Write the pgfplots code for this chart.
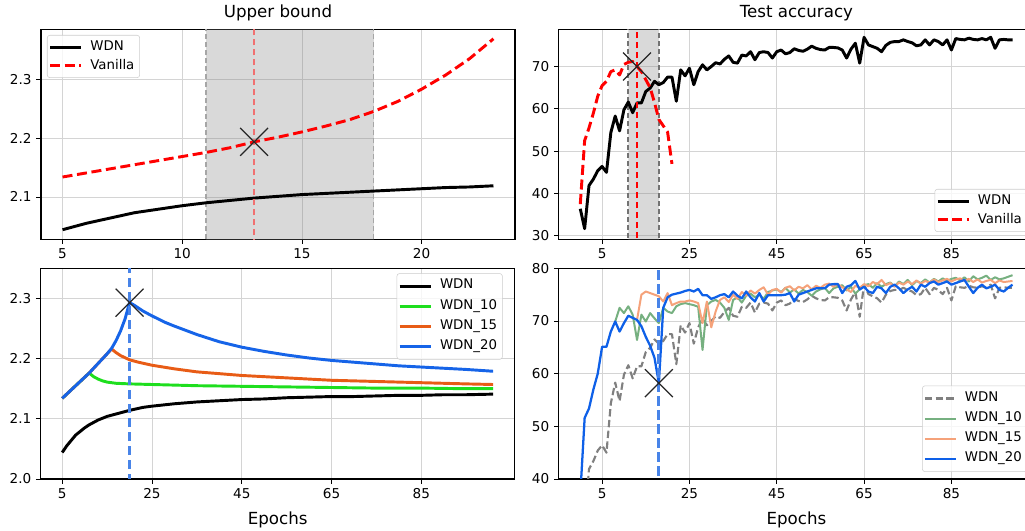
\documentclass[border=0pt]{standalone}
\usepackage{fontspec}
\setmainfont{DejaVu Sans}
\usepackage{pgfplots}
\usepackage{pgfplotstable}
\pgfplotsset{compat=1.18}

\definecolor{wgreen}{RGB}{30,222,30}
\definecolor{worange}{RGB}{232,92,22}
\definecolor{wblue}{RGB}{22,100,232}
\definecolor{lgreen}{RGB}{118,176,128}
\definecolor{lorange}{RGB}{245,162,122}
\definecolor{lblue}{RGB}{14,96,232}
\definecolor{vblue}{RGB}{72,132,232}
\definecolor{vred}{RGB}{240,112,112}

\pgfplotsset{
  panel/.style={
    scale only axis, anchor=south west,
    axis line style={line width=0.8pt},
    tick align=outside, tick pos=left,
    major tick length=3.5pt, tick style={line width=0.6pt, black},
    grid=major, grid style={line width=0.6pt, draw=black!17},
    tick label style={font=\fontsize{10.2}{11.5}\selectfont},
    /pgf/number format/assume math mode=true,
    title style={font=\fontsize{12.5}{14}\selectfont, at={(0.5,1)}, anchor=base, yshift=2.5pt},
    xlabel style={font=\fontsize{12.5}{14}\selectfont, at={(0.5,0)}, anchor=base, yshift=-34pt},
    legend cell align=left,
    legend image code/.code={\draw[#1] (0cm,0cm) -- (0.82cm,0cm);},
    legend style={font=\fontsize{10}{11.5}\selectfont, draw=black!20,
      rounded corners=2pt, fill=white, fill opacity=0.8, text opacity=1,
      inner xsep=1pt, inner ysep=2pt,
      /tikz/every odd column/.append style={column sep=2.8pt},
      nodes={inner xsep=3pt, inner ysep=2.2pt, text height=7.3pt, text depth=2.2pt}},
  },
  onedec/.style={yticklabel style={/pgf/number format/fixed,
    /pgf/number format/precision=1, /pgf/number format/fixed zerofill}},
  xmk/.style={only marks, mark=x, mark size=14.8pt,
    mark options={solid, line width=0.9pt, draw=black!85}, forget plot},
}

% test accuracy of WDN (used in both right panels)
\pgfplotstableread{
x y
0 36.4
1 31.7
2 41.9
3 43.4
4 45.4
5 46.4
6 45.0
7 54.4
8 58.3
9 54.8
10 59.8
11 61.6
12 59.1
13 61.4
14 61.4
15 64.1
16 64.9
17 66.5
18 65.7
19 66.2
20 67.5
21 67.5
22 61.8
23 69.2
24 67.8
25 69.6
26 65.7
27 68.8
28 70.4
29 69.2
30 70.0
31 70.9
32 70.6
33 71.7
34 72.5
35 71.0
36 70.8
37 72.7
38 72.5
39 73.5
40 71.6
41 73.3
42 73.5
43 73.3
44 72.0
45 73.5
46 73.9
47 73.0
48 73.3
49 74.2
50 73.8
51 73.6
52 74.1
53 74.8
54 74.3
55 74.0
56 73.9
57 74.5
58 74.5
59 74.4
60 73.9
61 72.0
62 74.1
63 75.5
64 70.8
65 76.9
66 75.1
67 74.7
68 74.3
69 73.5
70 75.0
71 75.7
72 75.9
73 75.9
74 76.3
75 75.9
76 75.6
77 74.9
78 75.1
79 76.3
80 75.1
81 76.3
82 75.9
83 75.1
84 76.3
85 73.9
86 76.6
87 76.4
88 76.3
89 76.7
90 76.4
91 76.3
92 76.6
93 76.3
94 76.9
95 74.3
96 76.3
97 76.4
98 76.3
99 76.3
}\wdnacc

\begin{document}
\begin{tikzpicture}

% ---------- upper bound ----------
\begin{axis}[panel, onedec, at={(30.75pt,218.8pt)}, width=355.5pt, height=157.5pt,
  xmin=4.1, xmax=23.9, ymin=2.0277, ymax=2.3863,
  xtick={5,10,15,20}, ytick={2.1,2.2,2.3},
  title={Upper bound},
  legend style={at={(0,1)}, anchor=north west, xshift=4.5pt, yshift=-4.3pt}]
\addplot[draw=none, fill=gray, fill opacity=0.3, forget plot]
  coordinates {(11,2.0) (18,2.0) (18,2.4) (11,2.4) (11,2.0)};
\addplot[black!35, line width=1.1pt, dash pattern=on 4pt off 2pt, forget plot]
  coordinates {(11,2.0) (11,2.4)};
\addplot[black!35, line width=1.1pt, dash pattern=on 4pt off 2pt, forget plot]
  coordinates {(18,2.0) (18,2.4)};
\addplot[black, line width=2.2pt, line join=round] coordinates {
  (5,2.044) (6,2.055) (7,2.064) (8,2.073) (9,2.079) (10,2.085) (11,2.090)
  (12,2.094) (13,2.098) (14,2.101) (15,2.104) (16,2.106) (17,2.108)
  (18,2.110) (19,2.112) (20,2.114) (21,2.116) (22,2.117) (23,2.119)};
\addlegendentry{WDN}
\addplot[red, line width=2.2pt, dash pattern=on 7.5pt off 3.5pt] coordinates {
  (5,2.134) (6,2.141) (7,2.148) (8,2.155) (9,2.162) (10,2.169) (11,2.176)
  (12,2.184) (13,2.194) (14,2.202) (15,2.211) (16,2.221) (17,2.232)
  (18,2.246) (19,2.263) (20,2.284) (21,2.308) (22,2.336) (23,2.370)};
\addlegendentry{Vanilla}
\addplot[vred, line width=1.3pt, dash pattern=on 5pt off 2.5pt, forget plot]
  coordinates {(13,2.0) (13,2.4)};
\addplot[xmk] coordinates {(13,2.194)};
\end{axis}

% ---------- test accuracy ----------
\begin{axis}[panel, at={(419pt,218.8pt)}, width=356.6pt, height=157.5pt,
  xmin=-4.95, xmax=103.95, ymin=29.2, ymax=78.8,
  xtick={5,25,45,65,85}, ytick={30,40,50,60,70},
  title={Test accuracy},
  legend style={at={(1,0)}, anchor=south east, xshift=-5pt, yshift=5.5pt}]
\addplot[draw=none, fill=gray, fill opacity=0.3, forget plot]
  coordinates {(11,20) (18,20) (18,90) (11,90) (11,20)};
\addplot[black!55, line width=1.4pt, dash pattern=on 4pt off 2pt, forget plot]
  coordinates {(11,20) (11,90)};
\addplot[black!55, line width=1.4pt, dash pattern=on 4pt off 2pt, forget plot]
  coordinates {(18,20) (18,90)};
\addplot[black, line width=2.2pt, line join=round] table[x=x, y=y] {\wdnacc};
\addlegendentry{WDN}
\addplot[red, line width=2.2pt, dash pattern=on 7.5pt off 3.5pt, line join=round] coordinates {
  (0,37.5) (1,52.5) (2,55.5) (3,59.0) (4,63.0) (5,65.5) (6,66.5) (7,68.8)
  (8,69.2) (9,68.0) (10,70.5) (11,71.0) (12,71.2) (13,70.0) (14,68.8)
  (15,66.9) (16,65.0) (17,61.5) (18,57.5) (19,56.0) (20,54.5) (21,47.0)};
\addlegendentry{Vanilla}
\addplot[red, line width=1.6pt, dash pattern=on 5pt off 2.5pt, forget plot]
  coordinates {(13,20) (13,90)};
\addplot[xmk] coordinates {(13,70.0)};
\end{axis}

% ---------- bound with restarts ----------
\begin{axis}[panel, onedec, at={(30.5pt,39pt)}, width=355.5pt, height=158pt,
  xmin=0.2, xmax=105.8, ymin=2.0, ymax=2.35,
  xtick={5,25,45,65,85}, ytick={2.0,2.1,2.2,2.3},
  xlabel={Epochs},
  legend style={at={(1,1)}, anchor=north east, xshift=-9pt, yshift=-3.7pt,
    nodes={text depth=3.4pt}}]
\addplot[black, line width=2.2pt, line join=round] coordinates {
  (5,2.044) (6,2.055) (7,2.064) (8,2.073) (9,2.079) (10,2.085) (11,2.090)
  (12,2.094) (13,2.098) (14,2.101) (15,2.104) (16,2.106) (17,2.108)
  (18,2.110) (20,2.114) (23,2.119) (25,2.121) (30,2.125) (35,2.128)
  (40,2.130) (45,2.132) (50,2.133) (55,2.135) (60,2.136) (65,2.137)
  (70,2.137) (75,2.138) (80,2.139) (85,2.139) (90,2.140) (95,2.140) (101,2.141)};
\addlegendentry{WDN}
\addplot[wgreen, line width=2.2pt, line join=round] coordinates {
  (5,2.134) (6,2.141) (7,2.148) (8,2.155) (9,2.162) (10,2.169) (11,2.176)
  (12,2.170) (13,2.166) (14,2.163) (15,2.161) (17,2.159) (20,2.158)
  (25,2.157) (30,2.156) (35,2.155) (45,2.154) (55,2.153) (65,2.152)
  (75,2.151) (85,2.151) (95,2.150) (101,2.150)};
\addlegendentry{WDN\_10}
\addplot[worange, line width=2.2pt, line join=round] coordinates {
  (5,2.134) (6,2.141) (7,2.148) (8,2.155) (9,2.162) (10,2.169) (11,2.176)
  (12,2.184) (13,2.192) (14,2.200) (15,2.208) (16,2.216) (17,2.210)
  (18,2.205) (20,2.198) (22,2.194) (25,2.189) (30,2.183) (35,2.178)
  (40,2.175) (45,2.172) (50,2.170) (55,2.168) (60,2.166) (65,2.164)
  (70,2.163) (75,2.162) (80,2.161) (85,2.160) (90,2.159) (95,2.158) (101,2.157)};
\addlegendentry{WDN\_15}
\addplot[wblue, line width=2.2pt, line join=round] coordinates {
  (5,2.134) (6,2.141) (7,2.148) (8,2.155) (9,2.162) (10,2.169) (11,2.176)
  (12,2.184) (13,2.192) (14,2.200) (15,2.208) (16,2.217) (17,2.230)
  (18,2.246) (19,2.266) (20,2.293) (21,2.289) (22,2.284) (23,2.279)
  (25,2.271) (28,2.260) (30,2.254) (35,2.240) (40,2.228) (45,2.219)
  (50,2.212) (55,2.206) (60,2.201) (65,2.197) (70,2.194) (75,2.191)
  (80,2.188) (85,2.186) (90,2.184) (95,2.182) (101,2.179)};
\addlegendentry{WDN\_20}
\addplot[vblue, line width=2.2pt, dash pattern=on 7pt off 3.5pt, forget plot]
  coordinates {(20,1.9) (20,2.4)};
\addplot[xmk] coordinates {(20,2.293)};
\end{axis}

% ---------- accuracy with restarts ----------
\begin{axis}[panel, at={(419pt,39pt)}, width=356.6pt, height=158pt,
  xmin=-4.95, xmax=103.95, ymin=40, ymax=80,
  xtick={5,25,45,65,85}, ytick={40,50,60,70,80},
  xlabel={Epochs},
  legend style={at={(1,0)}, anchor=south east, xshift=-5pt, yshift=5.3pt,
    nodes={text depth=3.4pt}}]
\addplot[black!50, line width=1.6pt, dash pattern=on 5.5pt off 2.6pt, line join=round]
  table[x=x, y=y] {\wdnacc};
\addlegendentry{WDN}
\addplot[lgreen, line width=1.5pt, line join=round] table {
x y
8 69.9
9 72.5
10 71.5
11 72.8
12 71.2
13 66.4
14 71.2
15 69.9
16 71.5
17 70.5
18 69.6
19 72.5
20 71.8
21 71.5
22 72.8
23 73.2
24 73.4
25 73.2
26 73.0
27 72.7
28 64.5
29 73.0
30 73.7
31 74.0
32 73.5
33 72.5
34 70.2
35 74.0
36 74.5
37 73.5
38 74.8
39 75.2
40 74.5
41 75.0
42 74.2
43 75.5
44 75.8
45 76.0
46 75.5
47 76.3
48 75.4
49 76.0
50 75.2
51 75.9
52 75.5
53 74.8
54 75.6
55 76.0
56 76.3
57 75.3
58 76.2
59 76.5
60 76.8
61 75.8
62 76.5
63 75.2
64 76.0
65 76.8
66 77.0
67 76.3
68 77.2
69 76.5
70 77.0
71 77.3
72 76.6
73 77.5
74 77.0
75 77.8
76 76.8
77 77.6
78 77.2
79 77.9
80 77.3
81 78.0
82 77.5
83 78.1
84 77.6
85 78.0
86 78.2
87 77.7
88 78.3
89 77.5
90 78.5
91 77.9
92 78.2
93 78.6
94 77.8
95 78.3
96 77.9
97 78.1
98 78.4
99 78.7
};
\addlegendentry{WDN\_10}
\addplot[lorange, line width=1.5pt, line join=round] table {
x y
13 70.2
14 75.0
15 75.6
16 75.3
17 75.0
18 74.7
19 73.7
20 75.3
21 73.0
22 73.4
23 73.7
24 73.7
25 73.9
26 73.7
27 73.4
28 69.6
29 73.7
30 68.8
31 71.8
32 74.0
33 74.5
34 73.6
35 75.0
36 74.2
37 75.5
38 74.8
39 75.8
40 75.2
41 75.9
42 76.4
43 75.0
44 75.9
45 76.1
46 75.4
47 76.3
48 76.6
49 75.8
50 76.5
51 76.2
52 76.8
53 76.0
54 76.7
55 76.3
56 76.9
57 77.1
58 76.5
59 77.0
60 76.4
61 76.0
62 75.5
63 76.7
64 76.3
65 77.0
66 76.6
67 77.4
68 77.0
69 77.8
70 76.8
71 77.2
72 76.5
73 77.3
74 76.9
75 77.5
76 77.0
77 77.7
78 77.1
79 77.6
80 77.3
81 77.9
82 77.4
83 77.7
84 78.0
85 77.5
86 77.9
87 78.1
88 77.6
89 78.0
90 77.4
91 77.9
92 77.3
93 77.6
94 77.8
95 77.2
96 77.7
97 77.4
98 77.5
99 77.6
};
\addlegendentry{WDN\_15}
\addplot[lblue, line width=1.7pt, line join=round] table {
x y
0 37.0
1 51.6
2 53.4
3 57.0
4 60.0
5 65.1
6 65.1
7 68.0
8 69.9
9 68.0
10 69.6
11 71.0
12 70.6
13 70.2
14 69.0
15 67.0
16 65.3
17 63.0
18 58.2
19 72.5
20 74.5
21 75.0
22 75.2
23 75.4
24 75.7
25 75.9
26 75.6
27 76.1
28 74.9
29 74.9
30 74.2
31 74.5
32 74.9
33 75.1
34 74.5
35 75.6
36 74.8
37 74.3
38 75.6
39 74.5
40 73.7
41 75.3
42 73.7
43 74.9
44 74.9
45 74.9
46 74.9
47 75.0
48 75.3
49 73.7
50 75.0
51 75.3
52 75.6
53 75.9
54 76.2
55 76.2
56 76.2
57 76.9
58 77.0
59 77.0
60 75.3
61 76.5
62 76.8
63 77.6
64 76.0
65 76.5
66 75.6
67 75.3
68 76.5
69 76.2
70 75.3
71 76.5
72 76.9
73 76.2
74 75.3
75 76.0
76 76.5
77 75.6
78 76.9
79 76.5
80 77.2
81 77.5
82 76.9
83 77.2
84 77.5
85 76.9
86 77.2
87 77.5
88 77.8
89 76.5
90 75.3
91 76.3
92 76.9
93 76.2
94 76.5
95 76.9
96 75.9
97 75.6
98 76.3
99 76.9
};
\addlegendentry{WDN\_20}
\addplot[vblue, line width=2.2pt, dash pattern=on 7pt off 3.5pt, forget plot]
  coordinates {(18,30) (18,90)};
\addplot[xmk] coordinates {(18,58.2)};
\end{axis}

\pgfresetboundingbox
\path (0,0) rectangle (768.75pt,398.25pt);
\end{tikzpicture}
\end{document}
